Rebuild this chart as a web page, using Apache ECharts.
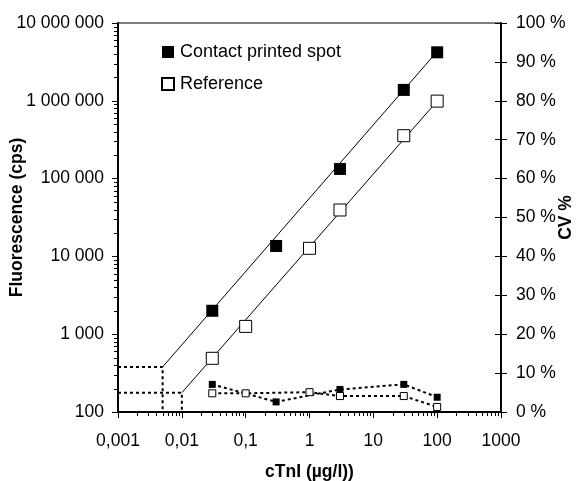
<!DOCTYPE html>
<html>
<head>
<meta charset="utf-8">
<script src="https://cdn.jsdelivr.net/npm/echarts@6/dist/echarts.min.js"></script>
<style>
  html, body { margin: 0; padding: 0; background: #fff; }
  #chart { width: 578px; height: 481px; }
</style>
</head>
<body>
<div id="chart"></div>
<script>
// cTnI concentrations (µg/l), signals (cps) and CV (%)
const concPrinted = [0.03, 0.3, 3, 30, 100];
const signalPrinted = [2000, 13600, 133000, 1380000, 4200000];
const cvPrinted = [7.1, 2.6, 5.8, 7.1, 3.8];

const concReference = [0.03, 0.1, 1, 3, 30, 100];
const signalReference = [490, 1260, 12700, 39500, 356000, 990000];
const cvReference = [4.8, 4.8, 5.1, 4.1, 4.1, 1.3];

// fitted calibration lines: from the detection limit to the top calibrator
const fitPrintedX = [0.005, 100];
const fitPrintedY = [380, 4300000];
const fitReferenceX = [0.01, 100];
const fitReferenceY = [177, 990000];

// detection limits (concentration, signal)
const lodX = [0.005, 0.01];
const lodY = [380, 177];

const xTickLabels = ['0,001', '0,01', '0,1', '1', '10', '100', '1000'];
const yTickLabels = ['100', '1 000', '10 000', '100 000', '1 000 000', '10 000 000'];

const X_MIN = 0.001, X_MAX = 1000, Y_MIN = 100, Y_MAX = 10000000;
const FONT = '"Liberation Sans", Arial, sans-serif';
const TICK_FONT = 17.5;

const zip = (a, b) => a.map((v, i) => [v, b[i]]);

// minor tick positions for the log axes (2..9 within each decade)
const minorValues = (lo, hi) => {
  const out = [];
  for (let d = lo; d < hi; d *= 10) {
    for (let m = 2; m <= 9; m++) out.push(m * d);
  }
  return out;
};
const xMinor = minorValues(X_MIN, X_MAX).map(v => [v, Y_MIN]);
const yMinor = minorValues(Y_MIN, Y_MAX).map(v => [X_MIN, v]);

const chart = echarts.init(document.getElementById('chart'), null, { renderer: 'canvas' });

const dotted = { color: '#000', width: 2, type: [3, 3] };
const titleStyle = { fontSize: 17.5, fontWeight: 'bold', color: '#000', fontFamily: FONT };

chart.setOption({
  animation: false,
  backgroundColor: '#fff',
  textStyle: { fontFamily: FONT },
  grid: {
    left: 118, right: 77, top: 23, bottom: 69,
    show: true, borderColor: '#000', borderWidth: 1,
    containLabel: false, outerBoundsMode: 'none'
  },
  legend: {
    data: ['Contact printed spot', 'Reference'],
    orient: 'vertical',
    left: 161, top: 43,
    padding: 0,
    itemWidth: 12, itemHeight: 12, itemGap: 14,
    textStyle: { fontSize: 18, color: '#000', fontFamily: FONT, padding: [0, 0, 0, 1] }
  },
  xAxis: {
    type: 'log', logBase: 10, min: X_MIN, max: X_MAX,
    name: 'cTnI (µg/l))', nameLocation: 'middle', nameGap: 51, nameMoveOverlap: false,
    nameTextStyle: titleStyle,
    axisLine: { lineStyle: { color: '#000', width: 2 } },
    axisTick: { length: 6, lineStyle: { color: '#000', width: 1 } },
    splitLine: { show: false },
    axisLabel: {
      fontSize: TICK_FONT, color: '#000', margin: 20, fontFamily: FONT,
      formatter: v => xTickLabels[Math.round(Math.log10(v)) + 3]
    }
  },
  yAxis: [
    {
      type: 'log', logBase: 10, min: Y_MIN, max: Y_MAX, position: 'left',
      name: 'Fluorescence (cps)', nameLocation: 'middle', nameRotate: 90,
      nameGap: 92, nameMoveOverlap: false,
      nameTextStyle: titleStyle,
      axisLine: { show: true, lineStyle: { color: '#000', width: 2 } },
      axisTick: { show: true, length: 6, lineStyle: { color: '#000', width: 1 } },
      splitLine: { show: false },
      axisLabel: {
        fontSize: TICK_FONT, color: '#000', margin: 14, fontFamily: FONT,
        formatter: v => yTickLabels[Math.round(Math.log10(v)) - 2]
      }
    },
    {
      type: 'value', min: 0, max: 100, interval: 10, position: 'right',
      name: 'CV %', nameLocation: 'middle', nameRotate: 90,
      nameGap: 56, nameMoveOverlap: false,
      nameTextStyle: titleStyle,
      axisLine: { show: true, lineStyle: { color: '#000', width: 2 } },
      axisTick: { show: true, length: 6, lineStyle: { color: '#000', width: 1 } },
      splitLine: { show: false },
      axisLabel: {
        fontSize: TICK_FONT, color: '#000', margin: 15, fontFamily: FONT,
        formatter: v => v + ' %'
      }
    },
    {
      // inner half of the crossing ticks on the CV axis
      type: 'value', min: 0, max: 100, interval: 10, position: 'right',
      axisLine: { show: false },
      axisTick: { show: true, inside: true, length: 6, lineStyle: { color: '#000', width: 1 } },
      axisLabel: { show: false },
      splitLine: { show: false }
    }
  ],
  series: [
    {
      name: 'fit printed', type: 'line', xAxisIndex: 0, yAxisIndex: 0,
      data: zip(fitPrintedX, fitPrintedY), symbol: 'none', silent: true,
      lineStyle: { color: '#000', width: 1 }, z: 2
    },
    {
      name: 'fit reference', type: 'line', xAxisIndex: 0, yAxisIndex: 0,
      data: zip(fitReferenceX, fitReferenceY), symbol: 'none', silent: true,
      lineStyle: { color: '#000', width: 1 }, z: 2
    },
    {
      name: 'lod printed', type: 'line', yAxisIndex: 0, symbol: 'none', silent: true,
      data: [[X_MIN, lodY[0]], [lodX[0], lodY[0]], [lodX[0], Y_MIN]],
      lineStyle: dotted, z: 2
    },
    {
      name: 'lod reference', type: 'line', yAxisIndex: 0, symbol: 'none', silent: true,
      data: [[X_MIN, lodY[1]], [lodX[1], lodY[1]], [lodX[1], Y_MIN]],
      lineStyle: dotted, z: 2
    },
    {
      name: 'cv printed', type: 'line', yAxisIndex: 1,
      data: zip(concPrinted, cvPrinted),
      symbol: 'rect', symbolSize: 7, showAllSymbol: true,
      itemStyle: { color: '#000', borderColor: '#000', borderWidth: 0 },
      lineStyle: dotted, z: 3
    },
    {
      name: 'cv reference', type: 'line', yAxisIndex: 1,
      data: zip(concReference, cvReference),
      symbol: 'rect', symbolSize: 7, showAllSymbol: true,
      itemStyle: { color: '#fff', borderColor: '#000', borderWidth: 1 },
      lineStyle: dotted, z: 3
    },
    {
      name: 'Contact printed spot', type: 'scatter', yAxisIndex: 0,
      data: zip(concPrinted, signalPrinted),
      symbol: 'rect', symbolSize: 12,
      itemStyle: { color: '#000', borderColor: '#000', borderWidth: 0, opacity: 1 }, z: 4
    },
    {
      name: 'Reference', type: 'scatter', yAxisIndex: 0,
      data: zip(concReference, signalReference),
      symbol: 'rect', symbolSize: 12,
      itemStyle: { color: '#fff', borderColor: '#000', borderWidth: 1, opacity: 1 }, z: 4
    },
    {
      name: 'x minor ticks', type: 'custom', yAxisIndex: 0, silent: true, clip: false,
      data: xMinor,
      renderItem: (params, api) => {
        const p = api.coord([api.value(0), api.value(1)]);
        const x = Math.round(p[0]) + 0.5;
        return { type: 'line', shape: { x1: x, y1: p[1], x2: x, y2: p[1] + 4 },
                 style: { stroke: '#000', lineWidth: 1 } };
      }
    },
    {
      name: 'y minor ticks', type: 'custom', yAxisIndex: 0, silent: true, clip: false,
      data: yMinor,
      renderItem: (params, api) => {
        const p = api.coord([api.value(0), api.value(1)]);
        const y = Math.round(p[1]) + 0.5;
        return { type: 'line', shape: { x1: p[0] - 4, y1: y, x2: p[0], y2: y },
                 style: { stroke: '#000', lineWidth: 1 } };
      }
    }
  ]
});
</script>
</body>
</html>
